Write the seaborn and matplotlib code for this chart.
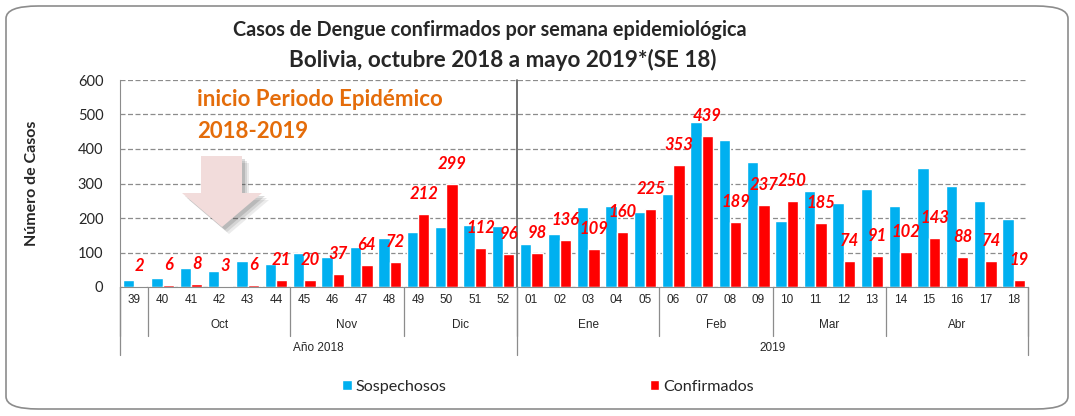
import matplotlib
matplotlib.use("Agg")
import matplotlib.pyplot as plt
import seaborn as sns
import pandas as pd
from matplotlib.patches import Polygon, FancyBboxPatch, Patch

# datos
semanas = ["39", "40", "41", "42", "43", "44", "45", "46", "47", "48", "49", "50", "51", "52",
           "01", "02", "03", "04", "05", "06", "07", "08", "09", "10", "11", "12", "13",
           "14", "15", "16", "17", "18"]
sospechosos = [21, 27, 54, 45, 75, 67, 99, 87, 116, 141, 158, 175, 181, 178,
               126, 153, 231, 236, 218, 271, 477, 425, 362, 191, 277, 243, 283,
               235, 344, 293, 250, 198]
confirmados = [2, 6, 8, 3, 6, 21, 20, 37, 64, 72, 212, 299, 112, 96,
               98, 136, 109, 160, 225, 353, 439, 189, 237, 250, 185, 74, 91,
               102, 143, 88, 74, 19]
meses = ["", "Oct", "Nov", "Dic", "Ene", "Feb", "Mar", "Abr"]
mes_inicio = [0, 1, 6, 10, 14, 19, 23, 27, 32]
anios = ["Año 2018", "2019"]
anio_inicio = [0, 14, 32]

AZUL = "#00B0F0"
ROJO = "#FF0000"
NARANJA = "#E46C0A"
GRIS = "#8C8C8C"

W, H = 1075, 416
sns.set_style("white")
plt.rcParams["font.family"] = ["Lato", "DejaVu Sans"]

df = pd.DataFrame({
    "semana": semanas * 2,
    "casos": sospechosos + confirmados,
    "tipo": ["Sospechosos"] * len(semanas) + ["Confirmados"] * len(semanas),
})

fig = plt.figure(figsize=(W / 100, H / 100), dpi=100)
def px(x, y):
    return (x / W, 1 - y / H)

ax = fig.add_axes([120 / W, 1 - 287 / H, (1028 - 120) / W, (287 - 80) / H])
sns.barplot(data=df, x="semana", y="casos", hue="tipo", order=semanas,
            palette={"Sospechosos": AZUL, "Confirmados": ROJO},
            width=0.8, saturation=1, legend=False, ax=ax)

ax.set_ylim(0, 600)
ax.set_xlim(-0.5, len(semanas) - 0.5)
ax.set_yticks(range(0, 601, 100))
ax.tick_params(axis="y", labelsize=10.5, length=3, color=GRIS, pad=9)
ax.yaxis.grid(True, linestyle=(0, (4, 2)), color="#8C8C8C", linewidth=0.9)
ax.set_axisbelow(True)
for s in ["top", "right"]:
    ax.spines[s].set_visible(False)
ax.spines["left"].set_color(GRIS)
ax.spines["bottom"].set_color(GRIS)
ax.set_xlabel("")
ax.set_ylabel("Número de Casos", fontsize=11.5, fontweight="bold", labelpad=28)

# tabla del eje x
ax.set_xticks([])
tr = ax.get_xaxis_transform()
fam_t = ["Liberation Sans Narrow", "Liberation Sans", "DejaVu Sans"]
for i, s in enumerate(semanas):
    ax.text(i, -0.065, s, transform=tr, ha="center", va="center", fontsize=8.5, family=fam_t)
for k, m in enumerate(meses):
    c = (mes_inicio[k] + mes_inicio[k + 1] - 1) / 2
    ax.text(c, -0.185, m, transform=tr, ha="center", va="center", fontsize=8.5, family=fam_t)
for k, a in enumerate(anios):
    c = (anio_inicio[k] + anio_inicio[k + 1] - 1) / 2
    ax.text(c, -0.295, a, transform=tr, ha="center", va="center", fontsize=8.5, family=fam_t)
for b in mes_inicio:
    ax.plot([b - 0.5, b - 0.5], [0, -0.235], transform=tr, color=GRIS, lw=0.9, clip_on=False)
for b in anio_inicio:
    ax.plot([b - 0.5, b - 0.5], [0, -0.33], transform=tr, color=GRIS, lw=0.9, clip_on=False)
ax.plot([13.5, 13.5], [1, 0], transform=tr, color="#595959", lw=1.2, clip_on=False)

# etiquetas de confirmados
for i, v in enumerate(confirmados):
    ax.text(i + 0.2, v + 58, str(v), ha="center", va="center", color=ROJO,
            fontsize=12, fontweight="bold", fontstyle="italic")

# titulo
fig.text(*px(490, 30), "Casos de Dengue confirmados por semana epidemiológica",
         ha="center", va="center", fontsize=14.3, fontweight="bold")
fig.text(*px(503, 60), "Bolivia, octubre 2018 a mayo 2019*(SE 18)",
         ha="center", va="center", fontsize=16.2, fontweight="bold")

# anotacion
fig.text(*px(197, 100), "inicio Periodo Epidémico", ha="left", va="center",
         fontsize=16, fontweight="bold", color=NARANJA)
fig.text(*px(197, 132), "2018-2019", ha="left", va="center",
         fontsize=16, fontweight="bold", color=NARANJA)
flecha = [(201, 156), (242, 156), (242, 193), (262, 193), (222, 227), (182, 193), (201, 193)]
for d, a in [(7, 0.1), (5, 0.13), (3, 0.18)]:
    fig.patches.append(Polygon([px(x + d, y + d) for x, y in flecha], closed=True,
                               transform=fig.transFigure, facecolor="#404040",
                               edgecolor="none", alpha=a))
fig.patches.append(Polygon([px(x, y) for x, y in flecha], closed=True,
                           transform=fig.transFigure, facecolor="#F2DCDB", edgecolor="none"))

# leyenda
handles = [Patch(facecolor=AZUL), Patch(facecolor=ROJO)]
fig.legend(handles, ["Sospechosos", "Confirmados"], loc="center", ncol=2,
           bbox_to_anchor=px(548, 387), frameon=False, fontsize=11.6,
           handlelength=0.6, handleheight=0.6, handletextpad=0.25, columnspacing=12.6)

# borde redondeado
fig.patches.append(FancyBboxPatch(px(6, 409), (1068 - 6) / W, (409 - 6) / H,
                                  boxstyle="round,pad=0,rounding_size=0.03",
                                  transform=fig.transFigure, facecolor="none",
                                  edgecolor="#8C8C8C", linewidth=1.2))

fig.savefig("out.png", dpi=100)
